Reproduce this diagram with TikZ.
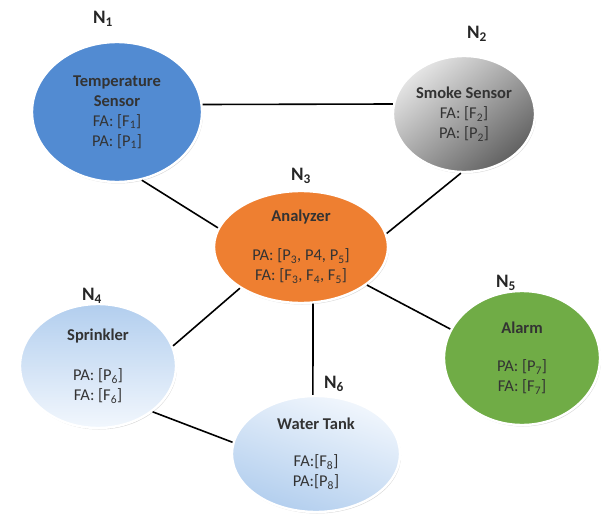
\documentclass[tikz,border=0pt]{standalone}
\usepackage{fontspec}
\setmainfont{Carlito}
\usepackage{tikz}
\usetikzlibrary{shapes.geometric,shadows}
\definecolor{tempblue}{RGB}{82,139,210}
\definecolor{anaorange}{RGB}{238,127,49}
\definecolor{alarmgreen}{RGB}{112,172,70}
\definecolor{skydark}{RGB}{178,206,238}
\definecolor{skylight}{RGB}{242,247,253}

\begin{document}
\begin{tikzpicture}[x=1pt,y=-1pt,
    unit/.style={ellipse,inner sep=0pt,align=center,text=black!80,
      font=\fontsize{16.5}{20}\selectfont,draw=white,line width=2.4pt,
      drop shadow={opacity=0.3,shadow xshift=1pt,shadow yshift=-1.5pt}},
    tag/.style={font=\bfseries\fontsize{19}{22}\selectfont,text=black!85},
    link/.style={line width=1.6pt,black}]
  \useasboundingbox (0,0) rectangle (608,516);

  % ---- units ------------------------------------------------------------
  \node[unit,fill=tempblue,minimum width=170,minimum height=140] (temp) at (117,112)
        {\textbf{Temperature}\\\textbf{Sensor}\\FA: [F\textsubscript{1}]\\PA: [P\textsubscript{1}]};
  \node[unit,top color=black!10,bottom color=black!62,shading angle=40,
        minimum width=142,minimum height=116] (smoke) at (464,114)
        {\textbf{Smoke Sensor}\\FA: [F\textsubscript{2}]\\PA: [P\textsubscript{2}]};
  \node[unit,fill=anaorange,minimum width=174,minimum height=112] (ana) at (301,247)
        {\textbf{Analyzer}\\[19pt]PA: [P\textsubscript{3}, P4, P\textsubscript{5}]\\FA: [F\textsubscript{3}, F\textsubscript{4}, F\textsubscript{5}]};
  \node[unit,top color=skydark,bottom color=skylight,
        minimum width=156,minimum height=124] (spr) at (98,366)
        {\textbf{Sprinkler}\\[20pt]PA: [P\textsubscript{6}]\\FA: [F\textsubscript{6}]};
  \node[unit,fill=alarmgreen,minimum width=156,minimum height=134] (alarm) at (522,358)
        {\textbf{Alarm}\\[18pt]PA: [P\textsubscript{7}]\\FA: [F\textsubscript{7}]};
  \node[unit,top color=skylight,bottom color=skydark,shading angle=-20,
        minimum width=168,minimum height=116] (tank) at (316,454)
        {\textbf{Water Tank}\\[17pt]FA:[F\textsubscript{8}]\\PA:[P\textsubscript{8}]};

  % ---- tags -------------------------------------------------------------
  \node[tag] (t1) at (103,19)  {N\textsubscript{1}};
  \node[tag] (t2) at (477,34)  {N\textsubscript{2}};
  \node[tag] (t3) at (301,176) {N\textsubscript{3}};
  \node[tag] (t4) at (92,296)  {N\textsubscript{4}};
  \node[tag] (t5) at (506,283) {N\textsubscript{5}};
  \node[tag] (t6) at (334,384) {N\textsubscript{6}};

  % ---- links ------------------------------------------------------------
  \draw[link] (temp.5)   -- (smoke.172);
  \draw[link] (temp.-70) -- (ana.167);
  \draw[link] (smoke.-93) -- (ana.9);
  \draw[link] (ana.214)  -- (spr.15);
  \draw[link] (ana.-30)  -- (alarm.158);
  \draw[link] (ana.-78)  -- (tank.93);
  \draw[link] (spr.-40)  -- (tank.172);
\end{tikzpicture}
\end{document}
